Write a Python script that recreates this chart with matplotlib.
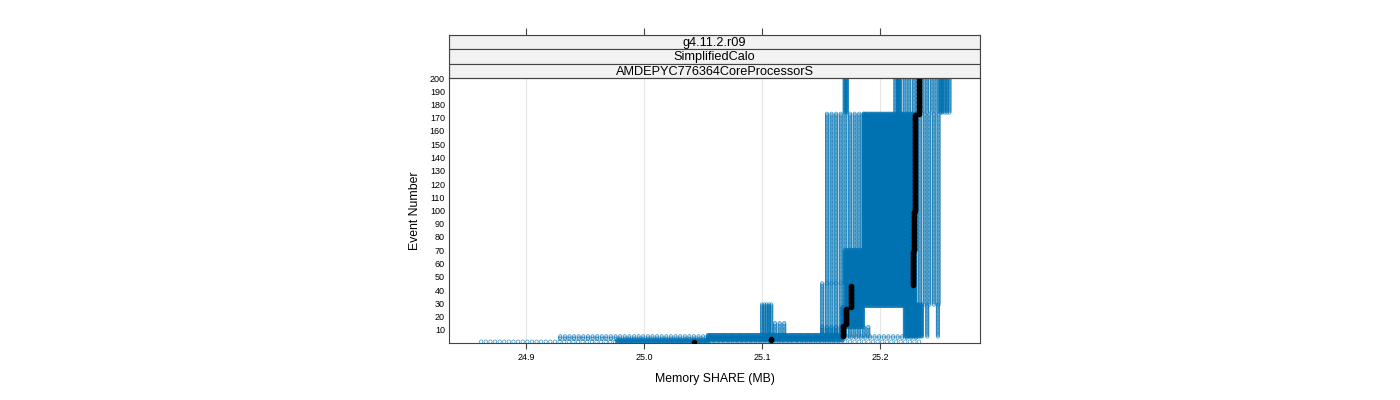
import numpy as np
import matplotlib
matplotlib.use("Agg")
import matplotlib.pyplot as plt

plt.rcParams['font.family'] = ['Liberation Sans', 'DejaVu Sans']

# runs at constant memory over a range of events
# x from / x to (MB), first / last event, spacing between runs (KB)
block_x0 = [24.862, 24.929, 25.100, 25.111, 25.151, 25.155, 25.151, 25.168, 25.230,
            25.240, 25.249, 25.213, 25.236,
            24.977, 25.054, 25.168, 25.186, 25.170, 25.221, 25.170, 25.215, 25.251]
block_x1 = [25.232, 25.054, 25.108, 25.119, 25.168, 25.186, 25.192, 25.232, 25.250,
            25.240, 25.249, 25.232, 25.250,
            25.054, 25.168, 25.186, 25.230, 25.230, 25.236, 25.172, 25.216, 25.259]
block_e0 = [1, 3, 3, 3, 5, 45, 5, 4, 29,
            5, 5, 174, 174,
            1, 2, 12, 70, 28, 5, 174, 174, 174]
block_e1 = [1, 5, 29, 15, 45, 173, 12, 5, 173,
            29, 29, 200, 200,
            2, 6, 27, 173, 70, 29, 200, 200, 200]
block_kb = [4, 4, 2, 4, 4, 4, 4, 4, 4,
            4, 4, 4, 4,
            1, 1, 1, 1, 1, 1, 1, 1, 2]

# median memory per event (MB), as constant stretches
median_x = [25.042, 25.108, 25.169, 25.171, 25.175, 25.228, 25.229, 25.230, 25.233]
median_e0 = [1, 2, 5, 14, 27, 44, 70, 100, 173]
median_e1 = [1, 3, 13, 26, 43, 69, 99, 172, 200]

xticks = [24.9, 25.0, 25.1, 25.2]
yticks = list(range(10, 201, 10))
strips = ["g4.11.2.r09", "SimplifiedCalo", "AMDEPYC776364CoreProcessorS"]

blue = "#0072B2"
frame = "#444444"

fig = plt.figure(figsize=(14, 4), dpi=100)
left, width = 449 / 1400, 531 / 1400
bottom, height = 1 - 343 / 400, 265 / 400
ax = fig.add_axes([left, bottom, width, height])

for x0, x1, e0, e1, kb in zip(block_x0, block_x1, block_e0, block_e1, block_kb):
    step = kb / 1024
    xs = np.arange(x0, x1 + step / 2, step)
    es = np.arange(e0, e1 + 1)
    gx, ge = np.meshgrid(xs, es)
    ax.scatter(gx.ravel(), ge.ravel(), s=6, facecolors="none",
               edgecolors=blue, linewidths=0.45, alpha=0.85, zorder=2)

for mx, e0, e1 in zip(median_x, median_e0, median_e1):
    es = np.arange(e0, e1 + 1)
    ax.scatter([mx] * len(es), es, s=9, color="black", zorder=3)

ax.set_xlim(24.8347, 25.2847)
ax.set_ylim(0, 200)
ax.set_xticks(xticks)
ax.set_xticklabels([f"{t:.1f}" for t in xticks], fontsize=6.5)
ax.set_yticks(yticks)
ax.set_yticklabels([str(t) for t in yticks], fontsize=6.5)
ax.tick_params(axis="x", direction="out", length=4, width=0.8, color=frame, pad=3)
ax.tick_params(axis="y", length=0, pad=3)
for t in xticks:
    ax.axvline(t, color="#e6e6e6", lw=0.8, zorder=0)
for sp in ax.spines.values():
    sp.set_color(frame)
    sp.set_linewidth(0.8)
ax.set_xlabel("Memory SHARE (MB)", fontsize=8.8, labelpad=8)
ax.set_ylabel("Event Number", fontsize=8.8, labelpad=6)

# strips on top of the panel
sax = fig.add_axes([left, 1 - 78 / 400, width, 43 / 400])
sax.set_xlim(ax.get_xlim())
sax.set_ylim(0, 3)
for i, name in enumerate(strips):
    y0 = 2 - i
    sax.axhspan(y0, y0 + 1, facecolor="#f2f2f2", edgecolor=frame, lw=0.8)
    sax.text(np.mean(ax.get_xlim()), y0 + 0.45, name, ha="center", va="center", fontsize=9.2)
sax.xaxis.tick_top()
sax.set_xticks(xticks)
sax.set_xticklabels([])
sax.tick_params(axis="x", direction="out", length=5, width=0.8, color=frame)
sax.set_yticks([])
for sp in sax.spines.values():
    sp.set_color(frame)
    sp.set_linewidth(0.8)

fig.savefig("out.png", dpi=100)
